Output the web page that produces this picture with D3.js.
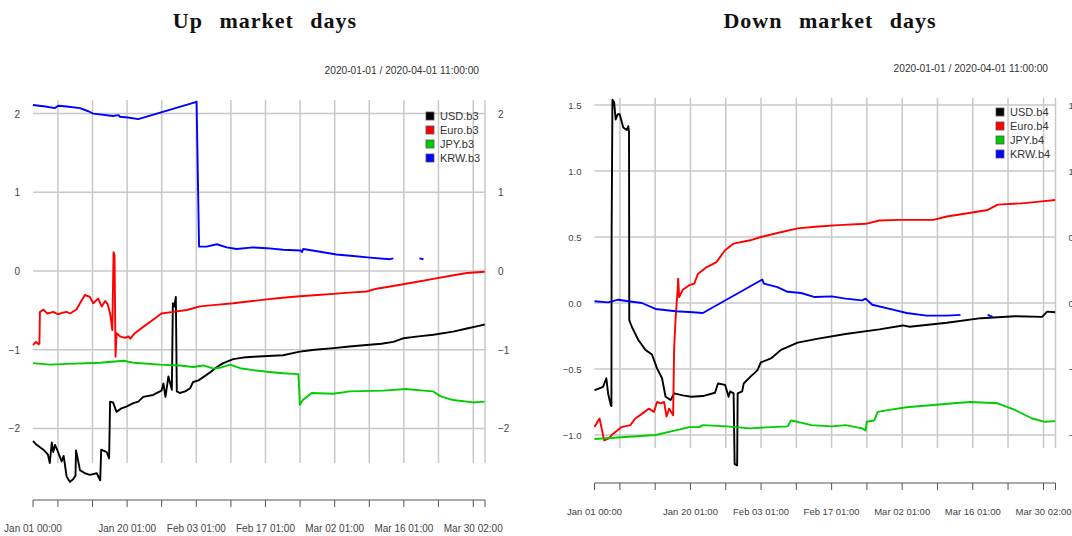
<!DOCTYPE html>
<html>
<head>
<meta charset="utf-8">
<script src="https://cdn.jsdelivr.net/npm/d3@7"></script>
<style>
  body { margin: 0; background: #fff; }
  svg { display: block; }
  .tick-text { font-family: "Liberation Sans", Arial, sans-serif; font-size: 10px; fill: #444; }
  .legend-text { font-family: "Liberation Sans", Arial, sans-serif; font-size: 11px; fill: #333; }
  .period-text { font-family: "Liberation Sans", Arial, sans-serif; font-size: 10.2px; fill: #333; }
  .main-title { font-family: "Liberation Serif", "DejaVu Serif", serif; font-size: 22px; font-weight: bold; fill: #111; letter-spacing: 1px; word-spacing: 10px; }
</style>
</head>
<body>
<svg id="chart" width="1072" height="536"></svg>
<script>
// time is given in days since 2020-01-01 00:00, null marks a gap in the series
const seriesNames = ["USD", "Euro", "JPY", "KRW"]
const seriesColors = ["#000000", "#ff0000", "#00cd00", "#0000ff"]

const tickTimes = ["2020-01-01T00:00", "2020-01-06T01:00", "2020-01-13T01:00", "2020-01-20T01:00",
  "2020-01-27T01:00", "2020-02-03T01:00", "2020-02-10T01:00", "2020-02-17T01:00", "2020-02-24T01:00",
  "2020-03-02T01:00", "2020-03-09T01:00", "2020-03-16T01:00", "2020-03-23T01:00", "2020-03-30T02:00",
  "2020-04-01T11:00"]
const tickLabels = ["Jan 01 00:00", "", "", "Jan 20 01:00", "", "Feb 03 01:00", "", "Feb 17 01:00", "",
  "Mar 02 01:00", "", "Mar 16 01:00", "", "Mar 30 02:00", ""]

// Up market days
const usdUp = [[0,-2.16],[0.6,-2.2],[2.1,-2.27],[3.0,-2.33],[3.4,-2.44],[3.8,-2.18],[4.1,-2.3],[4.45,-2.21],
  [5.0,-2.29],[5.8,-2.42],[6.2,-2.35],[6.8,-2.61],[7.5,-2.68],[8.2,-2.64],[8.6,-2.6],[8.7,-2.28],[9.0,-2.37],
  [9.5,-2.53],[10.5,-2.57],[11.5,-2.59],[12.9,-2.57],[13.6,-2.66],[13.8,-2.27],[14.9,-2.3],[15.4,-2.38],
  [15.6,-1.66],[16.2,-1.67],[16.9,-1.79],[17.9,-1.745],[19.0,-1.72],[20.3,-1.68],[21.3,-1.66],[22.3,-1.6],
  [24.3,-1.575],[25.4,-1.54],[26.0,-1.52],[26.4,-1.43],[26.8,-1.6],[27.4,-1.34],[28.1,-1.51],[28.3,-0.41],
  [28.6,-0.45],[28.9,-0.33],[29.1,-1.53],[29.7,-1.55],[30.8,-1.53],[31.8,-1.49],[32.4,-1.41],[33.5,-1.39],
  [35.1,-1.32],[36.0,-1.28],[37.2,-1.22],[38.5,-1.17],[40.5,-1.12],[42.5,-1.1],[44.6,-1.09],[47.5,-1.08],
  [50.6,-1.07],[54.0,-1.025],[57.0,-1.0],[60.8,-0.98],[64.0,-0.96],[67.5,-0.94],[70.5,-0.925],[72.9,-0.9],
  [74.9,-0.855],[78.0,-0.83],[81.0,-0.81],[85.0,-0.77],[87.8,-0.73],[90.0,-0.7],[91.4,-0.68]]
const euroUp = [[0,-0.94],[0.6,-0.9],[1.1,-0.93],[1.3,-0.92],[1.4,-0.52],[2.1,-0.49],[2.9,-0.54],[4.1,-0.52],
  [5.1,-0.55],[6.0,-0.53],[6.8,-0.52],[7.5,-0.54],[8.8,-0.49],[9.6,-0.4],[10.5,-0.305],[11.5,-0.33],
  [12.2,-0.41],[13.2,-0.35],[13.9,-0.45],[14.6,-0.38],[15.1,-0.42],[15.6,-0.54],[16.05,-0.75],[16.3,0.24],
  [16.5,0.2],[16.7,-1.09],[16.9,-0.79],[17.6,-0.83],[18.6,-0.85],[19.3,-0.83],[19.7,-0.86],[20.6,-0.79],
  [22.3,-0.71],[24.3,-0.62],[26.0,-0.54],[28.4,-0.52],[31.1,-0.495],[33.8,-0.45],[37.0,-0.43],[40.5,-0.41],
  [44.0,-0.385],[47.3,-0.36],[50.5,-0.34],[54.0,-0.32],[57.5,-0.305],[60.8,-0.29],[64.0,-0.275],[67.5,-0.26],
  [69.5,-0.225],[72.0,-0.2],[74.3,-0.175],[77.5,-0.14],[81.0,-0.1],[84.5,-0.06],[87.8,-0.025],[91.4,-0.01]]
const jpyUp = [[0,-1.17],[3.4,-1.19],[7.0,-1.18],[13.6,-1.165],[18.3,-1.14],[20.3,-1.165],[25.7,-1.19],
  [29.7,-1.2],[32.4,-1.22],[34.5,-1.2],[36.5,-1.24],[37.8,-1.23],[39.9,-1.19],[41.9,-1.235],[44.6,-1.26],
  [47.3,-1.28],[50.6,-1.3],[53.7,-1.31],[54.0,-1.7],[54.6,-1.64],[56.4,-1.55],[60.8,-1.56],[64.1,-1.53],
  [70.9,-1.52],[75.3,-1.5],[79.0,-1.52],[81.0,-1.53],[82.4,-1.59],[85.0,-1.64],[89.1,-1.67],[91.4,-1.66]]
const krwUp = [[0,2.11],[2.5,2.09],[4.45,2.07],[5.1,2.1],[6.8,2.09],[9.5,2.07],[11.2,2.03],[12.2,2.0],
  [16.2,1.97],[17.3,1.98],[17.6,1.96],[19.2,1.95],[21.3,1.93],[33.1,2.15],[33.6,0.31],[35.1,0.31],
  [37.2,0.34],[39.2,0.3],[41.2,0.28],[44.5,0.3],[47.3,0.29],[50.6,0.27],[54.2,0.26],[54.4,0.24],[54.7,0.28],
  [58.1,0.245],[61.4,0.21],[64.8,0.19],[68.2,0.17],[72.2,0.15],[72.9,0.16],null,[78.2,0.16],[79.0,0.15]]

// Down market days
const usdDown = [[0,-0.66],[0.7,-0.65],[1.7,-0.635],[2.35,-0.57],[2.7,-0.685],[3.2,-0.77],[3.36,-0.78],
  [3.4,0.55],[3.56,1.54],[3.9,1.52],[4.2,1.39],[4.6,1.43],[5.0,1.43],[5.7,1.33],[6.4,1.31],[6.7,1.34],
  [6.85,1.3],[6.9,-0.13],[7.4,-0.18],[8.7,-0.28],[10.1,-0.355],[11.4,-0.39],[12.4,-0.495],[13.4,-0.57],
  [14.1,-0.71],[15.1,-0.735],[15.8,-0.685],[17.5,-0.7],[19.2,-0.71],[21.5,-0.705],[23.9,-0.68],[24.5,-0.61],
  [25.9,-0.62],[26.6,-0.71],[26.9,-0.67],[27.6,-0.685],[27.8,-1.22],[28.3,-1.23],[28.4,-0.685],[29.3,-0.67],
  [29.6,-0.61],[30.9,-0.56],[32.3,-0.51],[33.0,-0.45],[35.0,-0.42],[37.0,-0.355],[40.3,-0.3],[44.4,-0.27],
  [49.8,-0.235],[56.5,-0.2],[61.2,-0.17],[62.5,-0.18],[69.9,-0.15],[76.7,-0.115],[83.4,-0.1],[88.8,-0.105],
  [89.8,-0.065],[91.4,-0.07]]
const euroDown = [[0,-0.94],[1.0,-0.875],[1.5,-0.965],[1.9,-1.04],[2.7,-1.03],[3.7,-0.99],[5.4,-0.94],
  [7.1,-0.925],[8.1,-0.875],[9.4,-0.84],[10.8,-0.8],[11.8,-0.825],[12.4,-0.75],[13.1,-0.76],[13.8,-0.75],
  [14.3,-0.86],[14.8,-0.8],[15.6,-0.85],[15.8,-0.34],[16.1,-0.11],[16.5,0.1],[16.6,0.185],[16.8,0.045],
  [17.5,0.1],[18.8,0.135],[19.8,0.147],[20.5,0.22],[22.2,0.27],[24.2,0.31],[25.9,0.4],[27.6,0.45],[30.9,0.475],
  [33.0,0.5],[36.3,0.53],[40.3,0.565],[44.4,0.58],[48.4,0.59],[53.8,0.6],[56.5,0.625],[60.5,0.63],[67.2,0.63],
  [69.9,0.655],[74.0,0.68],[78.0,0.705],[80.0,0.745],[84.7,0.755],[88.8,0.77],[91.4,0.78]]
const jpyDown = [[0,-1.03],[6.1,-1.015],[12.1,-1.0],[16.1,-0.965],[18.8,-0.94],[20.8,-0.94],[21.5,-0.925],
  [26.2,-0.935],[30.9,-0.95],[35.0,-0.94],[38.3,-0.935],[39.0,-0.89],[40.3,-0.9],[43.0,-0.925],[47.1,-0.935],
  [49.8,-0.925],[53.1,-0.95],[53.8,-0.965],[54.0,-0.9],[55.5,-0.89],[56.2,-0.825],[58.5,-0.81],[61.9,-0.79],
  [66.6,-0.775],[71.3,-0.76],[74.6,-0.75],[80.0,-0.76],[83.4,-0.81],[86.8,-0.875],[89.4,-0.9],[91.4,-0.895]]
const krwDown = [[0,0.013],[2.7,0.005],[4.7,0.025],[6.7,0.013],[9.4,0.0],[12.1,-0.045],[16.1,-0.063],
  [19.5,-0.07],[21.5,-0.076],[33.3,0.178],[33.6,0.147],[36.3,0.12],[38.3,0.085],[41.0,0.076],[43.7,0.045],
  [47.1,0.05],[49.8,0.033],[53.1,0.02],[53.8,0.033],[55.1,-0.013],[59.2,-0.05],[61.9,-0.076],[65.9,-0.096],
  [69.9,-0.096],[72.6,-0.09],null,[78.0,-0.09],[79.0,-0.105]]

const upTicks = [-2, -1, 0, 1, 2]
const downTicks = [-1.0, -0.5, 0.0, 0.5, 1.0, 1.5]

const t0 = Date.UTC(2020, 0, 1)
const toDate = d => new Date(t0 + d * 864e5)
const parseT = d3.utcParse("%Y-%m-%dT%H:%M")

const svg = d3.select("#chart")

function panel(opts){
    const x = d3.scaleUtc()
        .domain([parseT(tickTimes[0]), parseT(tickTimes[tickTimes.length - 1])])
        .range([opts.left, opts.right])
    const y = d3.scaleLinear().domain(opts.yDomain).range(opts.yRange)
    const g = svg.append("g")

    // title + period
    g.append("text").attr("class", "main-title")
        .attr("x", opts.titleX).attr("y", 28).attr("text-anchor", "middle").text(opts.title)
    g.append("text").attr("class", "period-text")
        .attr("x", opts.periodX).attr("y", opts.periodY).attr("text-anchor", "end")
        .text("2020-01-01 / 2020-04-01 11:00:00")

    // grid
    g.selectAll(".hgrid").data(opts.yTicks).enter().append("line")
        .attr("x1", opts.left).attr("x2", opts.right)
        .attr("y1", d => y(d)).attr("y2", d => y(d))
        .attr("stroke", "#c8c8c8").attr("stroke-width", 1.5)
    g.selectAll(".vgrid").data(tickTimes.slice(1)).enter().append("line")
        .attr("x1", d => x(parseT(d))).attr("x2", d => x(parseT(d)))
        .attr("y1", opts.gridTop).attr("y2", opts.gridBottom)
        .attr("stroke", "#c8c8c8").attr("stroke-width", 1.5)

    // y labels both sides
    g.selectAll(".ylab").data(opts.yTicks).enter().append("text")
        .attr("class", "tick-text").attr("x", opts.left - 13).attr("y", d => y(d) + 4)
        .attr("text-anchor", "end").style("font-size", opts.fs).text(opts.fmt)
    g.selectAll(".ylab2").data(opts.yTicks).enter().append("text")
        .attr("class", "tick-text").attr("x", opts.right + 13).attr("y", d => y(d) + 4)
        .attr("text-anchor", "start").style("font-size", opts.fs).text(opts.fmt)

    // x axis
    g.append("line").attr("x1", opts.left).attr("x2", opts.right)
        .attr("y1", opts.axisY).attr("y2", opts.axisY).attr("stroke", "#555").attr("stroke-width", 1)
    g.selectAll(".xt").data(tickTimes).enter().append("line")
        .attr("x1", d => x(parseT(d))).attr("x2", d => x(parseT(d)))
        .attr("y1", opts.axisY).attr("y2", opts.axisY + 7).attr("stroke", "#555")
    g.selectAll(".xl").data(tickTimes).enter().append("text")
        .attr("class", "tick-text").attr("x", d => x(parseT(d))).attr("y", opts.axisY + 32)
        .attr("text-anchor", "middle").style("font-size", opts.fs).text((d, i) => tickLabels[i])

    // lines
    const line = d3.line()
        .defined(d => d !== null)
        .x(d => x(toDate(d[0])))
        .y(d => y(d[1]))
    opts.series.forEach((s, i) => {
        g.append("path").attr("d", line(s))
            .attr("fill", "none").attr("stroke", seriesColors[i])
            .attr("stroke-width", 1.9).attr("stroke-linejoin", "round")
    })

    // legend
    const leg = g.selectAll(".leg").data(seriesNames).enter().append("g")
        .attr("transform", (d, i) => `translate(${opts.legX}, ${opts.legY + i * 14})`)
    leg.append("rect").attr("x", -4).attr("y", -4).attr("width", 8).attr("height", 8)
        .attr("fill", (d, i) => seriesColors[i]).attr("stroke", "#555").attr("stroke-width", 0.8)
    leg.append("text").attr("class", "legend-text").attr("x", 10).attr("y", 4)
        .text(d => d + opts.suffix)
}

panel({
    title: "Up market days", titleX: 265, periodX: 479, periodY: 74, fs: "10px",
    left: 33, right: 485, yDomain: [-2, 2], yRange: [428.4, 113.6],
    gridTop: 100, gridBottom: 463, axisY: 500, yTicks: upTicks, fmt: d => d3.format("d")(d),
    series: [usdUp, euroUp, jpyUp, krwUp], legX: 430, legY: 116, suffix: ".b3"
})
panel({
    title: "Down market days", titleX: 830, periodX: 1048, periodY: 72, fs: "9.5px",
    left: 594.5, right: 1055.5, yDomain: [-1, 1.5], yRange: [435, 105],
    gridTop: 98, gridBottom: 448, axisY: 483, yTicks: downTicks, fmt: d => d3.format(".1f")(d),
    series: [usdDown, euroDown, jpyDown, krwDown], legX: 1000, legY: 112, suffix: ".b4"
})
</script>
</body>
</html>
